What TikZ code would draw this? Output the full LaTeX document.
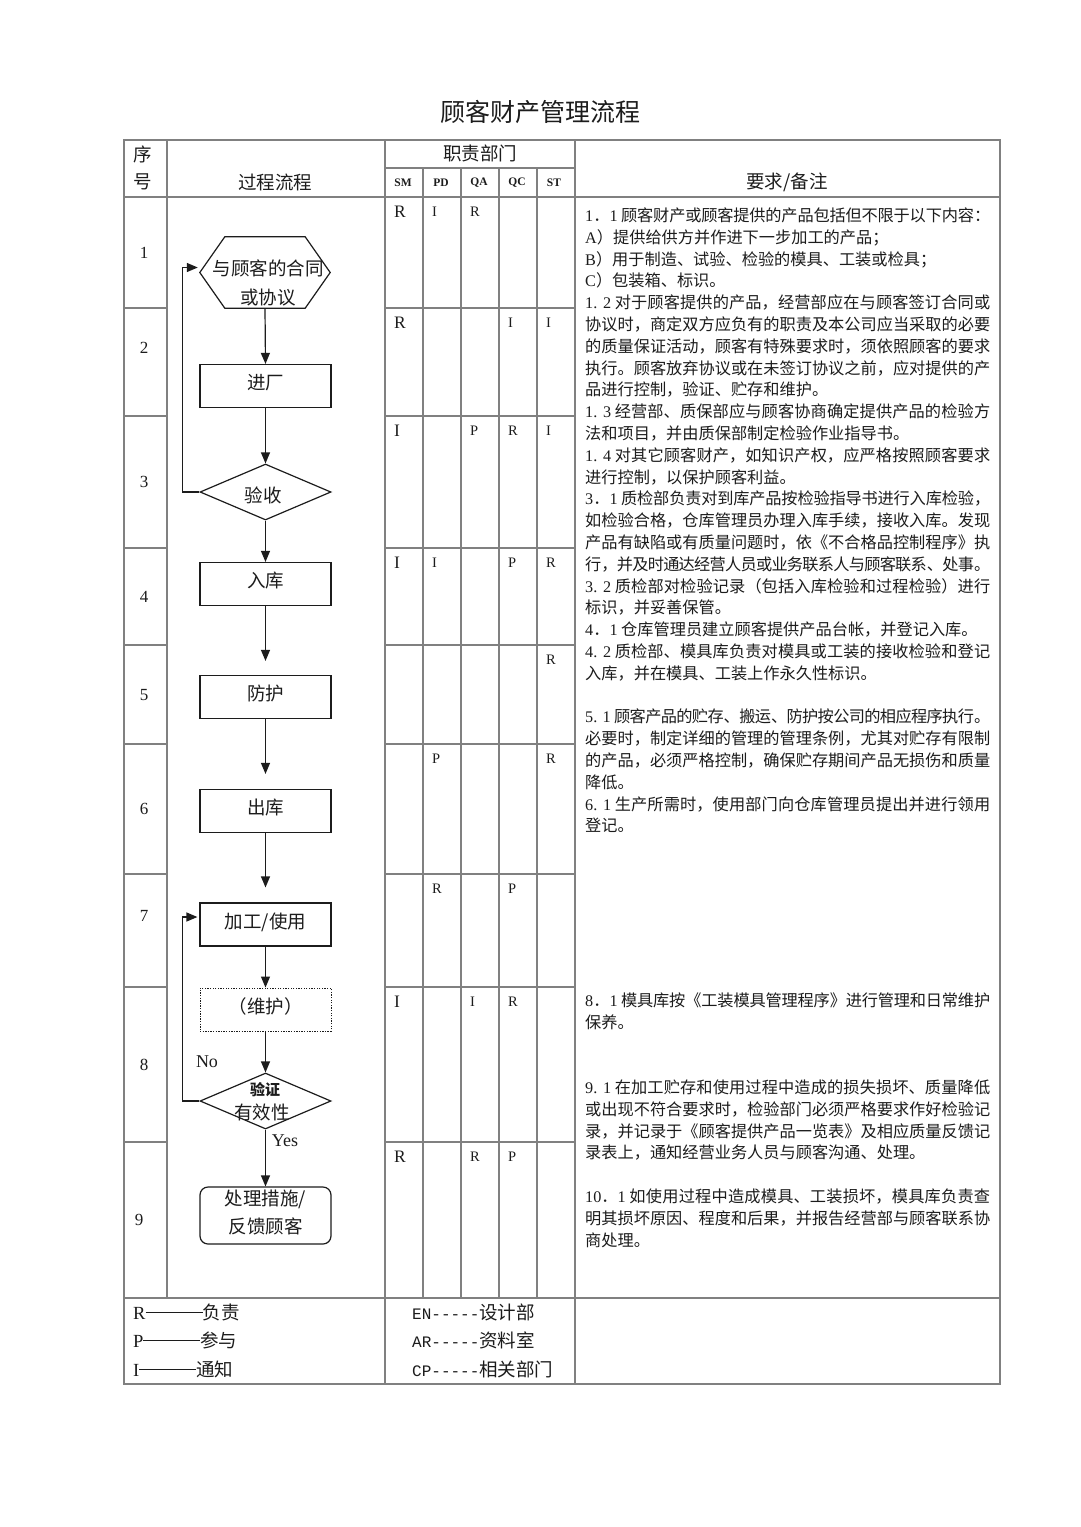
\documentclass[tikz,border=0pt]{standalone}
\usepackage{fontspec}
\usepackage{tikz}
\usepackage{xcolor}
\usetikzlibrary{arrows.meta,positioning,shapes.geometric,calc}
\setmainfont{Noto Sans CJK SC}
\newfontfamily\westfont{Liberation Serif}
\setmonofont{Liberation Mono}
\XeTeXlinebreaklocale "zh"
\XeTeXlinebreakskip=0pt plus 3pt minus 3pt
\newcommand\wf[1]{{\westfont #1}}
\newcommand\legdash{\rule[6.5pt]{57pt}{1pt}}
\definecolor{Ink}{HTML}{1C1C1C}
\definecolor{Grid}{HTML}{808080}
\tikzset{
  tableline/.style={draw=Grid,line width=1.3pt},
  shapeline/.style={draw=Ink,line width=1.2pt},
  box/.style={
    rectangle,draw=Ink,line width=1.2pt,minimum width=131pt,inner sep=0pt,
    font=\fontsize{18.5}{28}\selectfont,text=Ink
  },
  procbox/.style={box,minimum height=43pt,text height=16pt,text depth=9pt},
  maintbox/.style={procbox,line width=1pt,dash pattern=on 1.3pt off 1.3pt},
  endbox/.style={box,rounded corners=8pt,minimum height=57pt,align=center},
  decide/.style={
    diamond,draw=Ink,line width=1.2pt,inner sep=0pt,
    minimum width=131pt,minimum height=56pt
  },
  flowtext/.style={font=\fontsize{18.5}{29}\selectfont,text=Ink,align=center,inner sep=0pt},
  arrow/.style={-{Triangle[length=11pt,width=9pt]},line width=1.2pt,draw=Ink},
  headtext/.style={font=\fontsize{18.5}{22}\selectfont,text=Ink,inner sep=0pt},
  dept/.style={font=\westfont\bfseries\fontsize{11.5}{13}\selectfont,text=Ink,inner sep=0pt},
  resp/.style={font=\westfont\fontsize{14.5}{16}\selectfont,text=Ink,anchor=west,inner sep=0pt},
  respbig/.style={resp,font=\westfont\fontsize{17.5}{20}\selectfont},
  seqnum/.style={font=\westfont\fontsize{17}{20}\selectfont,text=Ink,inner sep=0pt},
  latinlabel/.style={font=\westfont\fontsize{18}{20}\selectfont,text=Ink,inner sep=0pt},
  notes/.style={
    anchor=north west,inner sep=0pt,text width=405pt,align=justify,text=Ink,
    font=\fontsize{16.2}{21.8}\selectfont
  },
  legendtext/.style={anchor=west,inner sep=0pt,font=\fontsize{18.5}{22}\selectfont,text=Ink}
}

\begin{document}
\begin{tikzpicture}[x=1pt,y=-1pt]
\fill[white] (0,0) rectangle (1080,1527);
\useasboundingbox (0,0) rectangle (1080,1527);

\node[headtext,font=\fontsize{25}{28}\selectfont] (title) at (540,112) {顾客财产管理流程};

\draw[tableline] (124,140) rectangle (1000,1384);
\draw[tableline] (124,197) -- (1000,197);
\draw[tableline] (124,1298) -- (1000,1298);
\draw[tableline] (385,168) -- (575,168);
\draw[tableline] (167,140) -- (167,1298);
\draw[tableline] (385,140) -- (385,1384);
\draw[tableline] (575,140) -- (575,1384);
\foreach \x in {423,461,499,537}
  \draw[tableline] (\x,168) -- (\x,1298);
\foreach \y in {308,416,548,645,744,874,987,1142} {
  \draw[tableline] (124,\y) -- (167,\y);
  \draw[tableline] (385,\y) -- (575,\y);
}

\node[headtext] (seqhead1) at (143,154) {序};
\node[headtext] (seqhead2) at (143,182) {号};
\node[headtext] (flowhead) at (275,182) {过程流程};
\node[headtext] (depthead) at (480,153) {职责部门};
\node[headtext] (notehead) at (787,182) {要求/备注};
\foreach \x/\d in {403/SM,441/PD,479/QA,517/QC,554/ST}
  \node[dept] (d-\d) at (\x,183) {\d};

\foreach \n/\x/\y in {1/144/253,2/144/348,3/144/482,4/144/597,5/144/695,6/144/809,7/144/916,8/144/1065,9/139/1220}
  \node[seqnum] (seq\n) at (\x,\y) {\n};

\foreach \y/\t in {197/R,308/R,416/I,548/I,987/I,1142/R}
  \node[respbig] (sm-\y) at (394,\y+15) {\t};
\foreach \x/\y/\t in {423/197/I,423/548/I,423/744/P,423/874/R,
    461/197/R,461/416/P,461/987/I,461/1142/R,
    499/308/I,499/416/R,499/548/P,499/874/P,499/987/R,499/1142/P,
    537/308/I,537/416/I,537/548/R,537/645/R,537/744/R}
  \node[resp] (r-\x-\y) at (\x+9,\y+15) {\t};

\node (contract) at (265,272.5) [minimum width=130pt,minimum height=71pt,inner sep=0pt] {};
\draw[shapeline] (contract.west) -- ($(contract.north west)+(25,0)$)
  -- ($(contract.north east)+(-25,0)$) -- (contract.east)
  -- ($(contract.south east)+(-25,0)$) -- ($(contract.south west)+(25,0)$) -- cycle;
\node[flowtext] (contracttext) at (268,282.5) {与顾客的合同\\或协议};
\node[procbox] (entry) at (265.5,386) {进厂};
\node[decide] (accept) at (265.5,492) {};
\node[flowtext] (accepttext) at (263,495) {验收};
\node[procbox] (store) at (265.5,584) {入库};
\node[procbox] (protect) at (265.5,697) {防护};
\node[procbox] (issue) at (265.5,811) {出库};
\node[procbox] (usage) at (265.5,924.5) {加工/使用};
\node[maintbox] (maint) at (265.5,1009.5) {（维护）};
\node[decide] (verify) at (265.5,1101) {};
\node[flowtext,font=\bfseries\fontsize{15}{18}\selectfont] (verifytop) at (265,1090) {验证};
\node[flowtext] (verifytext) at (262,1112) {有效性};
\node[endbox] (handle) at (265.5,1215.5) {处理措施/\\反馈顾客\rule[-8pt]{0pt}{8pt}};
\node[latinlabel] (nolabel) at (207,1062) {No};
\node[latinlabel] (yeslabel) at (285,1141) {Yes};

\draw[arrow] (contract.south) -- (entry.north);
\draw[arrow] (entry.south) -- (accept.north);
\draw[arrow] (accept.south) -- (store.north);
\draw[arrow,shorten >=14pt] (store.south) -- (protect.north);
\draw[arrow,shorten >=15pt] (protect.south) -- (issue.north);
\draw[arrow,shorten >=15pt] (issue.south) -- (usage.north);
\draw[arrow] (usage.south) -- (maint.north);
\draw[arrow] (maint.south) -- (verify.north);
\draw[arrow] (verify.south) -- (handle.north);
\draw[arrow] (accept.west) -- ++(-17,0) |- ([xshift=-2pt,yshift=5pt]contract.west);
\draw[arrow] (verify.west) -- ++(-17,0) |- ([xshift=-2pt,yshift=7.5pt]usage.west);

\node[notes] (remarks) at (585,206) {\strut
\wf{1}．\wf{1} 顾客财产或顾客提供的产品包括但不限于以下内容：\par
\wf{A}）提供给供方并作进下一步加工的产品；\par
\wf{B}）用于制造、试验、检验的模具、工装或检具；\par
\wf{C}）包装箱、标识。\par
\wf{1. 2} 对于顾客提供的产品，经营部应在与顾客签订合同或\linebreak
协议时，商定双方应负有的职责及本公司应当采取的必要\linebreak
的质量保证活动，顾客有特殊要求时，须依照顾客的要求\linebreak
执行。顾客放弃协议或在未签订协议之前，应对提供的产\linebreak
品进行控制，验证、贮存和维护。\par
\wf{1. 3} 经营部、质保部应与顾客协商确定提供产品的检验方\linebreak
法和项目，并由质保部制定检验作业指导书。\par
\wf{1. 4} 对其它顾客财产，如知识产权，应严格按照顾客要求\linebreak
进行控制，以保护顾客利益。\par
\wf{3}．\wf{1} 质检部负责对到库产品按检验指导书进行入库检验，\linebreak
如检验合格，仓库管理员办理入库手续，接收入库。发现\linebreak
产品有缺陷或有质量问题时，依《不合格品控制程序》执\linebreak
行，并及时通达经营人员或业务联系人与顾客联系、处事。\par
\wf{3. 2} 质检部对检验记录（包括入库检验和过程检验）进行\linebreak
标识，并妥善保管。\par
\wf{4}．\wf{1} 仓库管理员建立顾客提供产品台帐，并登记入库。\par
\wf{4. 2} 质检部、模具库负责对模具或工装的接收检验和登记\linebreak
入库，并在模具、工装上作永久性标识。\par
\mbox{}\par
\wf{5. 1} 顾客产品的贮存、搬运、防护按公司的相应程序执行。\par
必要时，制定详细的管理的管理条例，尤其对贮存有限制\linebreak
的产品，必须严格控制，确保贮存期间产品无损伤和质量\linebreak
降低。\par
\wf{6. 1} 生产所需时，使用部门向仓库管理员提出并进行领用\linebreak
登记。\par
\mbox{}\par\mbox{}\par\mbox{}\par\mbox{}\par\mbox{}\par\mbox{}\par\mbox{}\par
\wf{8}．\wf{1} 模具库按《工装模具管理程序》进行管理和日常维护\linebreak
保养。\par
\mbox{}\par\mbox{}\par
\wf{9. 1} 在加工贮存和使用过程中造成的损失损坏、质量降低\linebreak
或出现不符合要求时，检验部门必须严格要求作好检验记\linebreak
录，并记录于《顾客提供产品一览表》及相应质量反馈记\linebreak
录表上，通知经营业务人员与顾客沟通、处理。\par
\mbox{}\par
\wf{10}．\wf{1} 如使用过程中造成模具、工装损坏，模具库负责查\linebreak
明其损坏原因、程度和后果，并报告经营部与顾客联系协\linebreak
商处理。};

\node[legendtext] (legr) at (133,1312) {\wf{R}\legdash 负责};
\node[legendtext] (legp) at (133,1340) {\wf{P}\legdash 参与};
\node[legendtext] (legi) at (133,1369) {\wf{I}\legdash 通知};
\node[legendtext] (legen) at (412,1312) {{\ttfamily\fontsize{16}{20}\selectfont EN-----}设计部};
\node[legendtext] (legar) at (412,1340) {{\ttfamily\fontsize{16}{20}\selectfont AR-----}资料室};
\node[legendtext] (legcp) at (412,1369) {{\ttfamily\fontsize{16}{20}\selectfont CP-----}相关部门};
\end{tikzpicture}
\end{document}
